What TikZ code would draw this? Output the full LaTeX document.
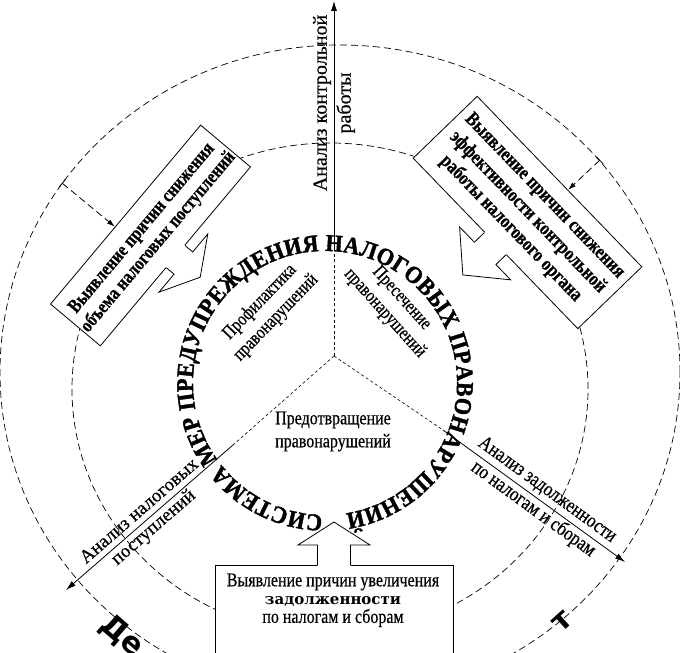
\documentclass[tikz,border=0pt]{standalone}
\usepackage{fontspec}
\setmainfont{Liberation Serif}[FakeBold=0.4]
\newfontfamily\tnc[FakeStretch=0.82,FakeBold=0.5]{Liberation Serif}
\newfontfamily\ringfam[FakeStretch=0.92,FakeBold=1.6]{Liberation Serif}
\newfontfamily\dvs{DejaVu Serif}
\newfontfamily\dvsans{DejaVu Sans}
\usetikzlibrary{arrows.meta,decorations.text,calc}
\newcommand{\ringfont}{\ringfam\bfseries\fontsize{24}{24}\selectfont}
\newcommand{\hollowarr}[6]{%
  \begin{scope}[shift={#1},rotate=#2]
    \fill[white] (-1.5,-#4/2) -- (#3,-#4/2) -- (#3,-#5/2) -- (#3+#6,0) -- (#3,#5/2) -- (#3,#4/2) -- (-1.5,#4/2) -- cycle;
    \draw[line width=0.8pt,line join=miter] (0,-#4/2) -- (#3,-#4/2) -- (#3,-#5/2) -- (#3+#6,0) -- (#3,#5/2) -- (#3,#4/2) -- (0,#4/2);
  \end{scope}}
\begin{document}
\begin{tikzpicture}[x=1pt,y=1pt,
  circ/.style={draw,line width=0.7pt,dash pattern=on 7pt off 4pt},
  fine/.style={draw,line width=0.6pt,dash pattern=on 3pt off 2.5pt},
  axis/.style={line width=0.8pt,-{Latex[length=10pt,width=6pt]}},
  ptr/.style={line width=0.8pt,dash pattern=on 7pt off 4pt,{Bar[width=10pt]}-{Latex[length=8pt,width=5pt]}},
  box/.style={draw,line width=0.8pt,fill=white,align=center,inner sep=2pt},
  lbl/.style={align=center,inner sep=0pt},
]
\useasboundingbox (0,0) rectangle (680,653);
\clip (0,0) rectangle (680,653);

% dashed circles
\draw[circ] (340,281) ellipse [x radius=340, y radius=327];
\draw[circ] (330,264) ellipse [x radius=258, y radius=246];

% axes
\coordinate (J) at (334,297);
\coordinate (A1) at (334,403); \coordinate (A2) at (334,652);
\coordinate (B1) at (233,208); \coordinate (B2) at (66,63);
\coordinate (C1) at (443,223); \coordinate (C2) at (625,91);
\draw[fine] (J) -- (A1);
\draw[fine] (J) -- (B1);
\draw[fine] (J) -- (C1);
\draw[axis] (A1) -- (A2);
\draw[axis] (B1) -- (B2);
\draw[axis] (C1) -- (C2);

% boxes
\node[box, rotate=50, minimum width=232pt, minimum height=65pt,
      font=\tnc\bfseries\fontsize{19.5}{21.5}\selectfont] (ul) at (150.5,417.5)
      {Выявление причин снижения\\объема налоговых поступлений};
\node[box, rotate=-46, minimum width=237pt, minimum height=89pt,
      font=\tnc\bfseries\fontsize{20}{23.5}\selectfont] (tr) at (527.5,440.5)
      {Выявление причин снижения\\эффективности контрольной\\работы налогового органа};
\node[draw, line width=0.8pt, fill=white, minimum width=238pt, minimum height=110pt,
      anchor=north, inner sep=0pt] (bb) at (334,88) {};
\node[lbl, font=\tnc\fontsize{19.5}{20}\selectfont] (bb1) at (333,71) {Выявление причин увеличения};
\node[lbl, font=\dvs\bfseries\fontsize{15}{18}\selectfont] (bb2) at (333,51) {задолженности};
\node[lbl, font=\tnc\fontsize{19.5}{20}\selectfont] (bb3) at (333,35) {по налогам и сборам};

% hollow block arrows
\hollowarr{(ul.south)}{-40}{10}{29}{76}{22}
\hollowarr{(tr.south)}{-136}{14}{31}{73.5}{31}
\hollowarr{(bb.north)}{90}{20}{33}{72}{23}

% dashed pointers
\coordinate (ulp) at (62,470);
\draw[ptr] (ulp) -- ($(ul.north west)!0.431!(ul.north east)$);
\coordinate (trp) at (600,493);
\draw[ptr] (trp) -- ($(tr.north west)!0.55!(tr.north east)$);

% ring text
\path[decorate, decoration={text along path,
   text={|\ringfont|СИСТЕМА МЕР ПРЕДУПРЕЖДЕНИЯ НАЛОГОВЫХ ПРАВОНАРУШЕНИЙ},
   text align={fit to path}}]
   (325,270) ++(269:132) arc[start angle=269, end angle=-81, radius=132];

% axis labels
\node[lbl, rotate=90, font=\fontsize{20}{24}\selectfont] (ta) at (334,550) {Анализ контрольной\\работы};
\node[lbl, rotate=41, font=\fontsize{19}{21.5}\selectfont] (tb) at (147,133) {Анализ налоговых\\поступлений};
\node[lbl, rotate=-36, font=\tnc\fontsize{20.5}{24}\selectfont] (tc) at (540,153) {Анализ задолженности\\по налогам и сборам};

% inner labels
\node[lbl, rotate=46, font=\tnc\fontsize{19}{22.5}\selectfont] (p1) at (268,343) {Профилактика\\правонарушений};
\node[lbl, rotate=-48, font=\tnc\fontsize{19}{22.5}\selectfont] (p2) at (393,347) {Пресечение\\правонарушений};
\node[lbl, font=\tnc\fontsize{19.5}{23}\selectfont] (p3) at (333,221.5) {Предотвращение\\правонарушений};

% fragments of the outer caption
\node[inner sep=0pt, rotate=-41, font=\dvsans\bfseries\fontsize{30}{30}\selectfont] (de) at (122,17) {Де};
\node[inner sep=0pt, rotate=42, font=\dvsans\bfseries\fontsize{30}{30}\selectfont] (te) at (562,31) {т};
\end{tikzpicture}
\end{document}
